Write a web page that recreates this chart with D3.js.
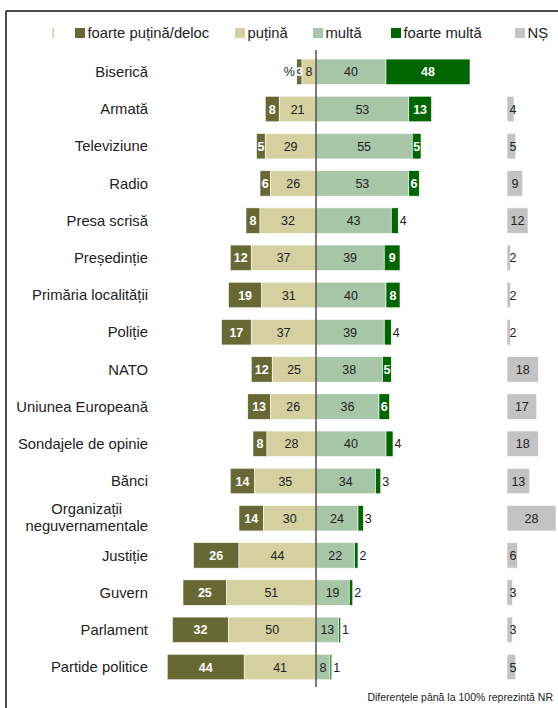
<!DOCTYPE html>
<html>
<head>
<meta charset="utf-8">
<script src="https://cdn.jsdelivr.net/npm/d3@7"></script>
<style>
  body { margin: 0; background: #fff; }
  text { font-family: "Liberation Sans", Arial, sans-serif; }
</style>
</head>
<body>
<script>
// date: încredere în instituții (%)
const categorii = ['Biserică', 'Armată', 'Televiziune', 'Radio', 'Presa scrisă', 'Președinție',
  'Primăria localității', 'Poliție', 'NATO', 'Uniunea Europeană', 'Sondajele de opinie', 'Bănci',
  'Organizații neguvernamentale', 'Justiție', 'Guvern', 'Parlament', 'Partide politice']
const foartePutina = [3, 8, 5, 6, 8, 12, 19, 17, 12, 13, 8, 14, 14, 26, 25, 32, 44]
const putina = [8, 21, 29, 26, 32, 37, 31, 37, 25, 26, 28, 35, 30, 44, 51, 50, 41]
const multa = [40, 53, 55, 53, 43, 39, 40, 39, 38, 36, 40, 34, 24, 22, 19, 13, 8]
const foarteMulta = [48, 13, 5, 6, 4, 9, 8, 4, 5, 6, 4, 3, 3, 2, 2, 1, 1]
const ns = [null, 4, 5, 9, 12, 2, 2, 2, 18, 17, 18, 13, 28, 6, 3, 3, 5]
const legendaTexte = ['foarte puțină/deloc', 'puțină', 'multă', 'foarte multă', 'NȘ']
const nota = 'Diferențele până la 100% reprezintă NR'

const culori = ['#686835', '#d4d0a0', '#a7c6a7', '#006600', '#c3c3c3']

const W = 558, H = 708
let svg = d3.select('body').append('svg').attr('width', W).attr('height', H)

// cadru (doar sus si stanga)
svg.append('line').attr('x1', 6).attr('x2', W).attr('y1', 11).attr('y2', 11)
  .attr('stroke', '#111').attr('stroke-width', 1.5)
svg.append('line').attr('x1', 6).attr('x2', 6).attr('y1', 11).attr('y2', H)
  .attr('stroke', '#111').attr('stroke-width', 1.5)

// scale
let x = d3.scaleLinear().domain([-100, 100]).range([141, 491])
let xNS = d3.scaleLinear().domain([0, 100]).range([507, 682])
let y = d3.scalePoint().domain(categorii).range([71.8, 667])
const bh = 25.5

// legenda
const legendaX = [75, 235, 313, 391, 515]
svg.append('rect').attr('x', 52.5).attr('y', 28).attr('width', 1.5).attr('height', 10).attr('fill', culori[1])
let leg = svg.append('g').selectAll('g').data(legendaTexte).join('g')
  .attr('transform', (d, i) => 'translate(' + legendaX[i] + ',0)')
leg.append('rect').attr('y', 28).attr('width', 10).attr('height', 10).attr('fill', (d, i) => culori[i])
leg.append('text').attr('x', 12.5).attr('y', 38).attr('font-size', 14.8).attr('fill', '#222').text(d => d)

// etichete categorii
categorii.forEach((c, i) => {
  if (c === 'Organizații neguvernamentale') {
    let t2 = svg.append('text').attr('x', 148).attr('y', y(c) + 8).attr('dy', '0.35em')
      .attr('text-anchor', 'end').attr('font-size', 14.8).attr('fill', '#222').text('neguvernamentale')
    let w2 = t2.node().getComputedTextLength()
    svg.append('text').attr('x', 148 - w2 / 2).attr('y', y(c) - 9).attr('dy', '0.35em')
      .attr('text-anchor', 'middle').attr('font-size', 14.8).attr('fill', '#222').text('Organizații')
  } else {
    svg.append('text').attr('x', 148).attr('y', y(c)).attr('dy', '0.35em')
      .attr('text-anchor', 'end').attr('font-size', 14.8).attr('fill', '#222').text(c)
  }
})

// segmente
let segmente = []
categorii.forEach((c, i) => {
  let fp = foartePutina[i], p = putina[i], m = multa[i], fm = foarteMulta[i]
  segmente.push({ c: c, x0: -(fp + p), x1: -p, v: fp, k: 0 })
  segmente.push({ c: c, x0: -p, x1: 0, v: p, k: 1 })
  segmente.push({ c: c, x0: 0, x1: m, v: m, k: 2 })
  segmente.push({ c: c, x0: m, x1: m + fm, v: fm, k: 3 })
})

let g = svg.append('g')
g.selectAll('rect').data(segmente).join('rect')
  .attr('x', d => x(d.x0))
  .attr('width', d => x(d.x1) - x(d.x0))
  .attr('y', d => y(d.c) - bh / 2)
  .attr('height', bh)
  .attr('fill', d => culori[d.k])
  .attr('stroke', '#fff').attr('stroke-width', 0.6)

g.selectAll('text').data(segmente).join('text')
  .attr('x', d => {
    if (d.k === 3 && d.v <= 4) return x(d.x1) + 1.5
    return (x(d.x0) + x(d.x1)) / 2
  })
  .attr('y', d => y(d.c)).attr('dy', '0.36em')
  .attr('text-anchor', d => (d.k === 3 && d.v <= 4) ? 'start' : 'middle')
  .attr('font-size', 12.5)
  .attr('font-weight', d => (d.k === 0 || (d.k === 3 && d.v > 4)) ? 'bold' : 'normal')
  .attr('fill', d => (d.k === 0 || (d.k === 3 && d.v > 4)) ? '#fff' : '#222')
  .text(d => d.v)

// "%" la Biserica
svg.append('text').attr('x', x(-(foartePutina[0] + putina[0])) - 2).attr('y', y(categorii[0])).attr('dy', '0.36em')
  .attr('text-anchor', 'end').attr('font-size', 12.5).attr('fill', '#222').text('%')

// NS
let nsData = categorii.map((c, i) => ({ c: c, v: ns[i] })).filter(d => d.v !== null)
svg.append('g').selectAll('rect').data(nsData).join('rect')
  .attr('x', xNS(0)).attr('width', d => xNS(d.v) - xNS(0))
  .attr('y', d => y(d.c) - bh / 2).attr('height', bh)
  .attr('fill', culori[4]).attr('stroke', '#fff').attr('stroke-width', 0.6)
svg.append('g').selectAll('text').data(nsData).join('text')
  .attr('x', d => xNS(0) + Math.max((xNS(d.v) - xNS(0)) / 2, 6))
  .attr('y', d => y(d.c)).attr('dy', '0.36em')
  .attr('text-anchor', 'middle').attr('font-size', 12.5).attr('fill', '#222')
  .text(d => d.v)

// linia zero
svg.append('line').attr('x1', x(0)).attr('x2', x(0)).attr('y1', 50).attr('y2', 687)
  .attr('stroke', '#333').attr('stroke-width', 1.3)

// nota
svg.append('text').attr('x', 553).attr('y', 701).attr('text-anchor', 'end')
  .attr('font-size', 10.5).attr('fill', '#222').text(nota)
</script>
</body>
</html>
